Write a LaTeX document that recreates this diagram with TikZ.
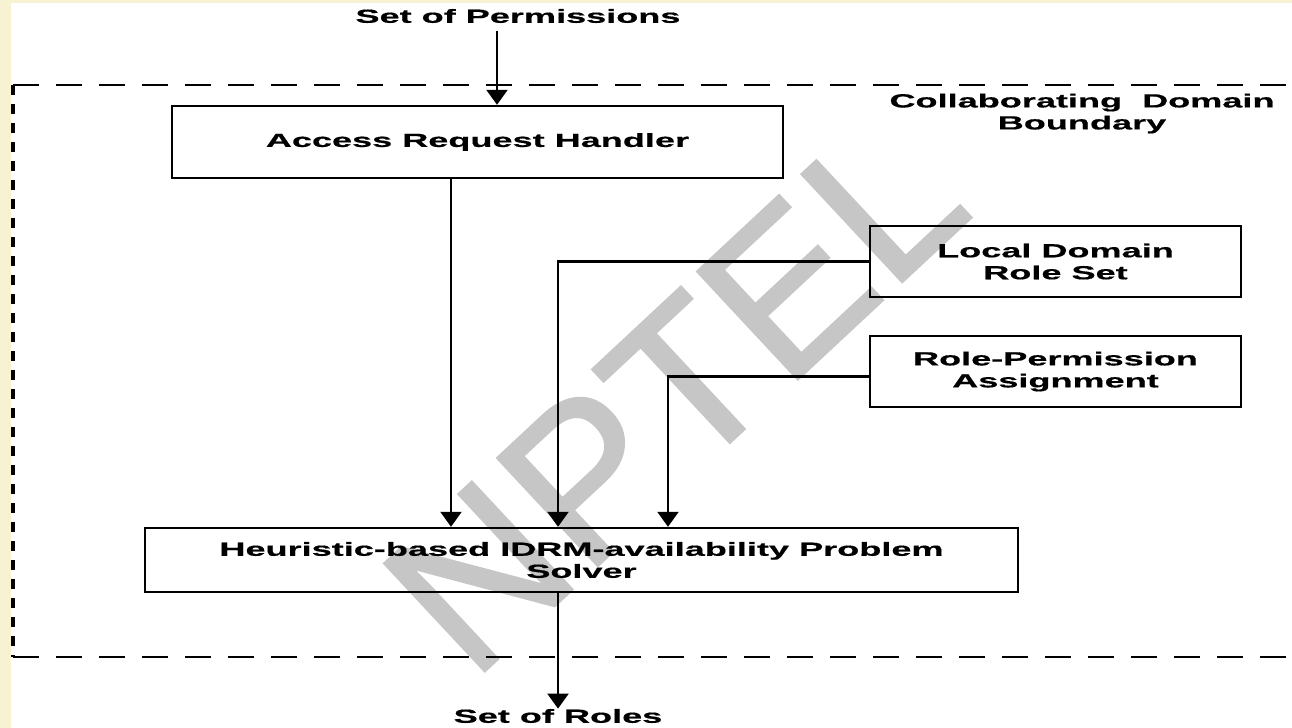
\documentclass[tikz,border=0pt]{standalone}
\usepackage{fontspec}
\newfontfamily\lblfont[FakeStretch=1.9,FakeBold=0.6]{Liberation Sans}
\newfontfamily\markfont[FakeBold=1.2]{Liberation Sans}
\usetikzlibrary{arrows.meta}
\definecolor{cream}{RGB}{246,242,210}
\definecolor{wm}{RGB}{198,198,198}

\begin{document}
\begin{tikzpicture}[x=0.5pt,y=-0.5pt,
  lbl/.style={font=\lblfont\bfseries\fontsize{9.5}{11}\selectfont, align=center, inner sep=0pt},
  box/.style={lbl, draw, line width=1.2pt, rectangle},
  arr/.style={line width=1.1pt, -{Triangle[width=10.5pt,length=7.5pt]}},
  hdash/.style={line width=1.2pt, dash pattern=on 13pt off 8.5pt},
  vdash/.style={line width=1.8pt, dash pattern=on 5pt off 4.5pt}]
  \useasboundingbox (0,0) rectangle (1292,728);

  % page background with the cream margin
  \fill[cream] (0,0) rectangle (1292,728);
  \fill[white] (11,3) rectangle (1292,728);

  % watermark
  \node[font=\markfont\fontsize{107}{107}\selectfont, text=wm, rotate=43, inner sep=0pt] (wmark) at (674,394) {NPTEL};

  % domain boundary (open on the right)
  \draw[hdash] (13,85) -- (1292,85);
  \draw[hdash] (13,657) -- (1292,657);
  \draw[vdash] (13,85) -- (13,657);

  % components
  \node[box, minimum width=305.5pt, minimum height=36pt] (acc) at (477.5,142) {Access Request Handler};
  \node[box, minimum width=185.5pt, minimum height=35.5pt] (loc) at (1055.5,261.5) {Local Domain\\Role Set};
  \node[box, minimum width=185.5pt, minimum height=35.5pt] (rp) at (1055.5,371.5) {Role-Permission\\Assignment};
  \node[box, minimum width=436.5pt, minimum height=32pt] (heur) at (581.5,560) {Heuristic-based IDRM-availability Problem\\Solver};

  % labels
  \node[lbl] (perm) at (518,16) {Set of Permissions};
  \node[lbl] (roles) at (558,716) {Set of Roles};
  \node[lbl] (bnd) at (1082,113.5) {Collaborating\ \ Domain\\Boundary};

  % connector columns
  \coordinate (xa) at (497,0);
  \coordinate (xb) at (451,0);
  \coordinate (xc) at (558,0);
  \coordinate (xd) at (668,0);

  % connectors
  \draw[arr] ([yshift=-4pt]perm.south -| xa) -- (acc.north -| xa);
  \draw[arr] (acc.south -| xb) -- (heur.north -| xb);
  \draw[arr] (loc.west) -| (xc |- heur.north);
  \draw[arr] ([yshift=-2.5pt]rp.west) -| (xd |- heur.north);
  \draw[arr] (heur.south -| roles) -- (roles.north);
\end{tikzpicture}
\end{document}
